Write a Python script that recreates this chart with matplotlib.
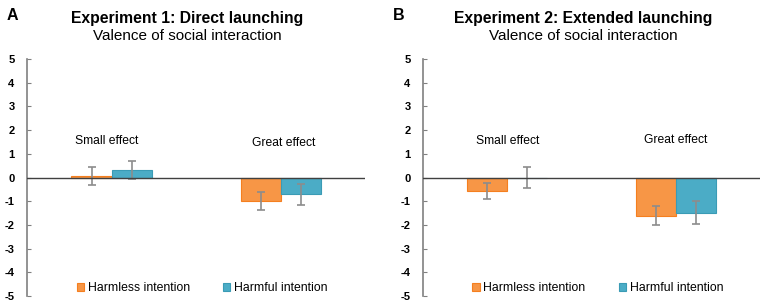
import matplotlib
matplotlib.use("Agg")
import matplotlib.pyplot as plt
import numpy as np

plt.rcParams['font.family'] = ['Liberation Sans', 'DejaVu Sans']

categories = ["Small effect", "Great effect"]
series = ["Harmless intention", "Harmful intention"]
colors = ["#F79646", "#4BACC6"]
edge_colors = ["#F57F1F", "#3A9BB5"]

exp1_harmless = [0.06, -1.00]
exp1_harmless_err = [0.37, 0.37]
exp1_harmful = [0.33, -0.71]
exp1_harmful_err = [0.38, 0.43]

exp2_harmless = [-0.57, -1.61]
exp2_harmless_err = [0.35, 0.41]
exp2_harmful = [0.0, -1.48]
exp2_harmful_err = [0.43, 0.50]

panels = [
    ("A", "Experiment 1: Direct launching", [exp1_harmless, exp1_harmful],
     [exp1_harmless_err, exp1_harmful_err], [(0.47, 1.55), (1.52, 1.45)]),
    ("B", "Experiment 2: Extended launching", [exp2_harmless, exp2_harmful],
     [exp2_harmless_err, exp2_harmful_err], [(0.5, 1.55), (1.5, 1.6)]),
]

fig = plt.figure(figsize=(7.65, 3.04), dpi=100)
ax_rects = [[0.0353, 0.026, 0.442, 0.780], [0.553, 0.026, 0.441, 0.780]]
letter_x = [0.009, 0.513]
title_x = [0.245, 0.762]

x = np.arange(len(categories)) + 0.5
w = 0.237
for i, (letter, title, vals, errs, lab_pos) in enumerate(panels):
    ax = fig.add_axes(ax_rects[i])
    for j in range(2):
        off = -w / 2 if j == 0 else w / 2
        ax.bar(x + off, vals[j], width=w, color=colors[j], edgecolor=edge_colors[j],
               linewidth=0.8, label=series[j], zorder=2)
        ax.errorbar(x + off, vals[j], yerr=errs[j], fmt='none', ecolor='#8C8C8C',
                    elinewidth=1.2, capsize=3, capthick=1.2, zorder=3)
    ax.axhline(0, color='#404040', linewidth=1.0, zorder=4)
    ax.set_xlim(0, 2)
    ax.set_ylim(-5, 5)
    ax.set_yticks(range(-5, 6))
    ax.set_yticklabels([str(v) for v in range(-5, 6)], fontweight='bold', fontsize=8)
    ax.tick_params(axis='y', direction='in', length=3, width=0.8, color='#808080', pad=9)
    ax.set_xticks([])
    for s in ['top', 'right', 'bottom']:
        ax.spines[s].set_visible(False)
    ax.spines['left'].set_color('#808080')
    ax.spines['left'].set_linewidth(1.2)
    for k, (lx, ly) in enumerate(lab_pos):
        ax.text(lx, ly, categories[k], ha='center', va='center', fontsize=8.7)
    ax.legend(loc='center', bbox_to_anchor=(0.518, 0.034), ncol=2, frameon=False,
              fontsize=8.8, handlelength=0.6, handleheight=0.6, handletextpad=0.3,
              columnspacing=2.7, borderpad=0)
    fig.text(letter_x[i], 0.95, letter, fontsize=11.5, fontweight='bold', ha='left', va='center')
    fig.text(title_x[i], 0.938, title, fontsize=11.3, fontweight='bold', ha='center', va='center')
    fig.text(title_x[i], 0.882, "Valence of social interaction", fontsize=11, ha='center', va='center')

fig.savefig("out.png", dpi=100)
